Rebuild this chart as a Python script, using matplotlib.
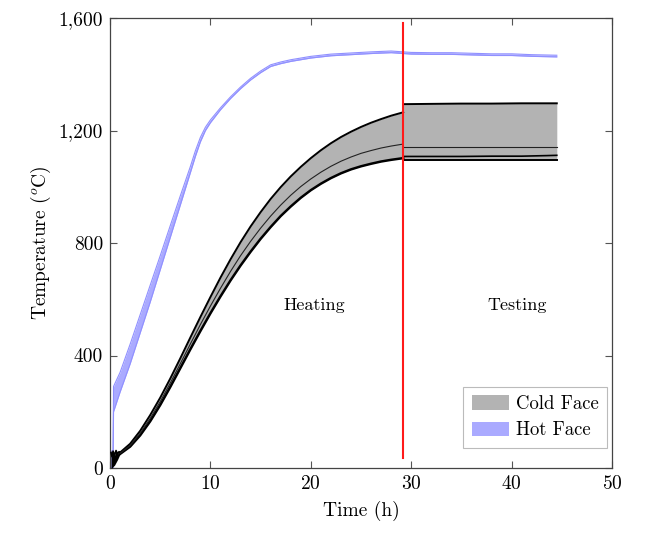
import matplotlib
matplotlib.use("Agg")
import matplotlib.pyplot as plt
from matplotlib.patches import Patch

plt.rcParams['font.family'] = ['cmr10', 'DejaVu Serif']
plt.rcParams['mathtext.fontset'] = 'cm'
plt.rcParams['axes.unicode_minus'] = False
plt.rcParams['axes.formatter.use_mathtext'] = True

# ---------------- data ----------------
hot_t = [0.05, 0.3, 0.35, 1, 2, 3, 4, 5, 6, 7, 8, 8.5, 9, 9.5, 10, 11, 12, 13,
         14, 15, 16, 17, 18, 20, 22, 24, 26, 28, 29.2, 30, 32, 34, 36, 38, 40,
         42, 44.5]
hot_lo = [0, 0, 200, 270, 370, 480, 590, 705, 820, 935, 1050, 1108, 1160, 1200,
          1228, 1274, 1314, 1349, 1380, 1406, 1428, 1438, 1446, 1458, 1466, 1470,
          1474, 1477, 1474, 1472, 1471, 1471, 1469, 1467, 1467, 1464, 1462]
hot_hi = [60, 60, 290, 340, 440, 545, 650, 755, 862, 968, 1072, 1128, 1176, 1212,
          1238, 1281, 1320, 1355, 1386, 1412, 1434, 1444, 1452, 1464, 1472, 1476,
          1480, 1483, 1480, 1478, 1477, 1477, 1475, 1473, 1473, 1470, 1468]

# start-up noise of cold face thermocouples
start_t = [0.1, 0.2, 0.3, 0.45, 0.6, 0.75, 0.9, 1.0]
start_lo = [0, 0, 5, 10, 20, 30, 42, 50]
start_hi = [55, 40, 60, 45, 62, 50, 58, 55]

# heating phase cold face (min, mean, max)
heat_t = [1, 2, 3, 4, 5, 6, 7, 8, 9, 10, 11, 12, 13, 14, 15, 16, 17, 18, 19,
          20, 21, 22, 23, 24, 25, 26, 27, 28, 29.2]
heat_lo = [50, 76, 116, 166, 224, 288, 355, 422, 487, 550, 610, 667, 720, 769,
           815, 857, 896, 930, 961, 988, 1011, 1031, 1048, 1062, 1073, 1082,
           1090, 1096, 1102]
heat_mid = [52, 80, 123, 176, 236, 302, 371, 441, 510, 576, 639, 699, 755, 806,
            853, 896, 935, 970, 1001, 1028, 1052, 1073, 1091, 1106, 1119, 1129,
            1138, 1145, 1152]
heat_hi = [55, 86, 132, 188, 250, 318, 390, 464, 537, 608, 677, 742, 803, 859,
           910, 957, 999, 1037, 1071, 1102, 1130, 1155, 1177, 1196, 1213, 1228,
           1241, 1253, 1265]

# testing phase cold face
test_t = [29.2, 32, 35, 38, 41, 43.5, 44.5]
test_lo = [1095, 1095, 1095, 1095, 1095, 1095, 1095]
test_lo2 = [1108, 1108, 1108, 1109, 1109, 1111, 1112]
test_mid = [1140, 1140, 1140, 1140, 1140, 1140, 1140]
test_hi = [1294, 1295, 1296, 1296, 1297, 1297, 1297]

switch_time = 29.2
switch_range = [35, 1582]

x_ticks = [0, 10, 20, 30, 40, 50]
y_ticks = [0, 400, 800, 1200, 1600]
y_tick_labels = ['0', '400', '800', '1,200', '1,600']

legend_labels = ['Cold Face', 'Hot Face']
phase_labels = ['Heating', 'Testing']
phase_pos = [(20.3, 580), (40.5, 580)]

# ---------------- plot ----------------
fig = plt.figure(figsize=(6.6, 5.33), dpi=100)
ax = fig.add_axes([0.1667, 0.122, 0.7606, 0.844])

gray = '#b3b3b3'
blue_fill = '#aaaaff'
blue_edge = '#9090ff'

# hot face
ax.fill_between(hot_t, hot_lo, hot_hi, color=blue_fill, lw=0, zorder=2)
ax.plot(hot_t, hot_lo, color=blue_edge, lw=0.8, zorder=2)
ax.plot(hot_t, hot_hi, color=blue_edge, lw=0.8, zorder=2)

# cold face
ax.fill_between(start_t, start_lo, start_hi, color='black', lw=0, zorder=3)
ax.plot(start_t, start_hi, color='black', lw=1.2, zorder=3)
ax.fill_between(heat_t, heat_lo, heat_hi, color=gray, lw=0, zorder=3)
ax.plot(heat_t, heat_lo, color='black', lw=1.8, zorder=4)
ax.plot(heat_t, heat_hi, color='black', lw=1.4, zorder=4)
ax.plot(heat_t, heat_mid, color='#222222', lw=0.8, zorder=4)

ax.fill_between(test_t, test_lo, test_hi, color=gray, lw=0, zorder=3)
ax.plot(test_t, test_hi, color='black', lw=1.4, zorder=4)
ax.plot(test_t, test_mid, color='#222222', lw=0.8, zorder=4)
ax.plot(test_t, test_lo2, color='black', lw=1.2, zorder=4)
ax.plot(test_t, test_lo, color='black', lw=1.4, zorder=4)
ax.plot([switch_time, switch_time], [heat_hi[-1], test_hi[0]], color='black', lw=1.2, zorder=4)

# switch line
ax.plot([switch_time, switch_time], switch_range, color='#ff1a1a', lw=1.5, zorder=5)

for lab, (px, py) in zip(phase_labels, phase_pos):
    ax.text(px, py, lab, fontsize=13, ha='center', va='center')

ax.set_xlim(0, 50)
ax.set_ylim(0, 1600)
ax.set_xticks(x_ticks)
ax.set_yticks(y_ticks)
ax.set_yticklabels(y_tick_labels)
ax.tick_params(direction='in', top=True, right=True, length=5, width=0.8,
               color='#555555', labelsize=14, pad=5)
for s in ax.spines.values():
    s.set_color('#444444')
    s.set_linewidth(0.9)

ax.set_xlabel('Time (h)', fontsize=14, labelpad=6)
ax.set_ylabel('Temperature ($^o$C)', fontsize=14, labelpad=4)

handles = [Patch(facecolor=gray, edgecolor='none'),
           Patch(facecolor=blue_fill, edgecolor='none')]
leg = ax.legend(handles, legend_labels, loc='lower right', fontsize=13.5,
                fancybox=False, edgecolor='#bbbbbb', framealpha=1,
                bbox_to_anchor=(0.99, 0.045), handlelength=2.0, handleheight=0.8,
                borderpad=0.45, labelspacing=0.45, handletextpad=0.35,
                borderaxespad=0.0)
leg.get_frame().set_linewidth(0.8)

fig.savefig('out.png', dpi=100)
